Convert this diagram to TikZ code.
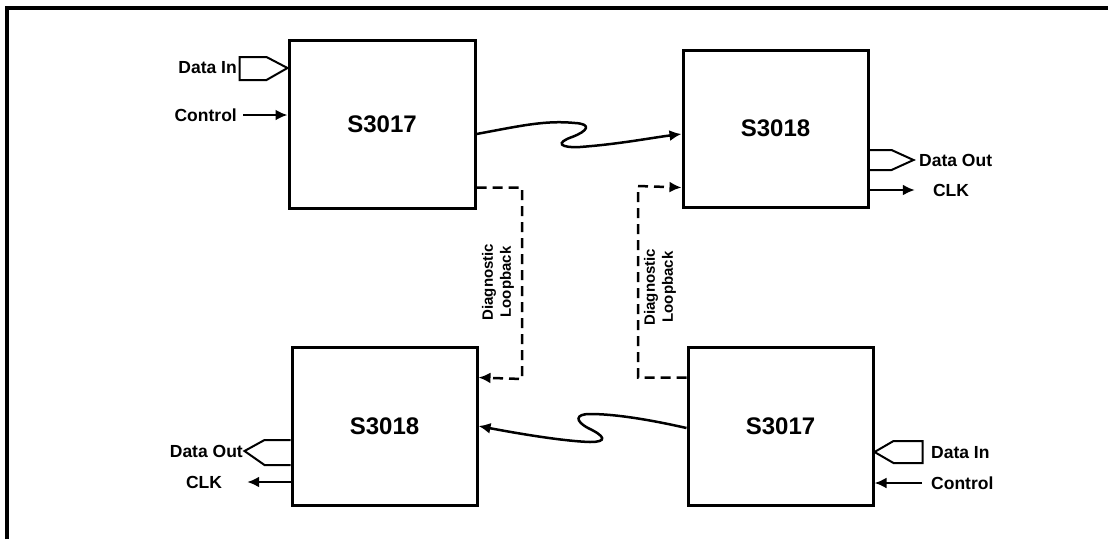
\documentclass[tikz,border=0pt]{standalone}
\usepackage{fontspec}
\setmainfont{Liberation Sans}
\usetikzlibrary{arrows.meta}

\begin{document}
\begin{tikzpicture}[x=1pt,y=-1pt,
    chip/.style={draw,line width=3pt,minimum width=185pt,minimum height=158pt,inner sep=0pt,
      font=\fontsize{24}{28}\selectfont\bfseries},
    sig/.style={inner sep=0pt,font=\fontsize{17.5}{20}\selectfont\bfseries},
    bus/.style={line width=2pt,line join=miter},
    wire/.style={line width=2.5pt,-{Latex[length=12pt,width=11pt]}},
    loopline/.style={wire,dash pattern=on 10pt off 6pt},
    note/.style={rotate=90,align=center,inner sep=0pt,font=\fontsize{15}{18}\selectfont\bfseries}]
    \useasboundingbox (0,0) rectangle (1108,539);
    \draw[line width=4pt] (7,539) -- (7,8) -- (1108,8);
    \node[chip,minimum width=186pt,minimum height=168pt] (txa) at (382,124) {S3017};
    \node[chip,minimum height=157pt] (rxa) at (775.5,128.5) {S3018};
    \node[chip] (rxb) at (384.5,426) {S3018};
    \node[chip] (txb) at (780.5,426) {S3017};
    \node[sig,anchor=east] (dina) at (237,68) {Data In};
    \node[sig,anchor=east] (ctla) at (237,115) {Control};
    \node[sig,anchor=west] (douta) at (919,160) {Data Out};
    \node[sig] (clka) at (951,190) {CLK};
    \node[sig,anchor=east] (doutb) at (243,451) {Data Out};
    \node[sig] (clkb) at (204,482) {CLK};
    \node[sig,anchor=west] (dinb) at (931,453) {Data In};
    \node[sig,anchor=west] (ctlb) at (931,483) {Control};
    \node[note] (diaga) at (498,282) {Diagnostic\\Loopback};
    \node[note] (diagb) at (660,287) {Diagnostic\\Loopback};
    \draw[bus] (txa.west |- 0,68) -- ++(-21,-11) -- ++(-27,0) -- ++(0,23) -- ++(27,0) -- cycle;
    \draw[wire] ([xshift=6pt]ctla.east) -- (txa.west |- ctla.east);
    \draw[bus] (rxa.east |- 0,150) -- ++(22,0) -- ++(22,10) -- ++(-22,10) -- ++(-22,0);
    \draw[wire] (rxa.east |- clka.west) -- ([xshift=-18pt]clka.west);
    \draw[bus] (rxb.west |- 0,440) -- ++(-26,0) -- ++(-20,11) -- ++(20,14) -- ++(26,0);
    \draw[wire] (rxb.west |- clkb.east) -- ([xshift=25pt]clkb.east);
    \draw[bus] (txb.east |- 0,452) -- ++(19,-11) -- ++(29,0) -- ++(0,22) -- ++(-29,0) -- cycle;
    \draw[wire] ([xshift=-9pt]ctlb.west) -- (txb.east |- ctlb.west);
    \draw[wire] ([yshift=-10pt]txa.east)
      .. controls (520,126) and (545,120) .. (575,123)
      .. controls (592,124) and (588,131) .. (572,137)
      .. controls (555,143) and (560,148) .. (580,147)
      .. controls (620,144) and (650,138) .. ([yshift=-5.5pt]rxa.west);
    \draw[wire] ([yshift=-2pt]txb.west)
      .. controls (660,422) and (620,414) .. (590,414)
      .. controls (575,414) and (575,421) .. (588,428)
      .. controls (605,436) and (608,442) .. (590,442)
      .. controls (560,441) and (510,432) .. (rxb.east);
    \draw[loopline] ([yshift=22pt]txa.south east) -| (522,379) -- ([yshift=-32pt]rxb.north east);
    \draw[loopline] ([yshift=-32pt]txb.north west) -| (638,186) -- ([yshift=21pt]rxa.south west);
\end{tikzpicture}
\end{document}
